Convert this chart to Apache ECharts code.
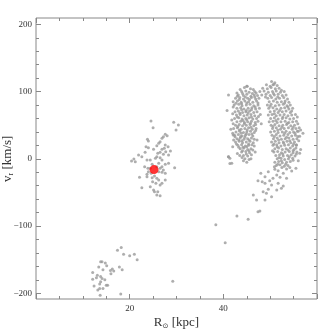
<!DOCTYPE html>
<html>
<head>
<meta charset="utf-8">
<script src="https://cdn.jsdelivr.net/npm/echarts@6/dist/echarts.min.js"></script>
<style>html,body{margin:0;padding:0;background:#fff;}#c{width:335px;height:335px;}</style>
</head>
<body>
<div id="c"></div>
<script>
// Tick labels
const xTickLabels = [20, 40];
const yTickLabels = [-200, -100, 0, 100, 200];

// Lower-left group [R, v_r]
const groupLow = [
[17.4,-136],[18.2,-132],[18.7,-142],[20.0,-144],[21.0,-142],[21.6,-150],
[13.8,-153],[14.1,-153],[13.4,-161],[14.8,-155],[15.1,-159],[14.3,-165],
[12.1,-169],[13.1,-173],[13.8,-175],[15.9,-166],[16.3,-164],[16.6,-167],
[17.8,-161],[18.4,-165],[16.0,-171],[12.1,-179],[12.9,-177],[14.1,-178],
[14.7,-180],[13.8,-183],[15.0,-188],[15.3,-188],[12.4,-189],[13.6,-186],
[13.6,-193],[14.3,-193],[13.2,-195],[13.7,-203],[18.1,-201],[29.2,-182]
];

// Middle group
const groupMid = [
[24.55,56.2],[29.4,54.3],[30.4,50.3],[25.0,46.2],[29.9,42.8],[27.6,36.4],
[28.0,34.4],[27.2,32.9],[26.9,30.5],[23.8,29.0],[24.0,26.5],[26.5,25.4],
[26.2,23.0],[25.8,19.5],[27.6,20.5],[23.5,18.0],[24.0,16.5],[25.1,14.1],
[26.9,14.1],[27.4,15.6],[28.2,18.0],[28.7,11.6],[27.7,10.6],[26.5,9.7],
[26.0,8.2],[23.3,9.7],[21.9,5.7],[22.6,3.1],[20.9,-0.3],[20.4,-3.3],
[21.2,-4.3],[27.2,6.7],[28.3,5.7],[25.8,3.1],[25.5,0.7],[26.5,1.6],
[24.4,-1.8],[23.7,-1.8],[26.9,-1.8],[27.6,-8.2],[28.3,-6.7],[26.2,-6.7],
[24.8,-8.2],[23.2,-11.7],[23.9,-14.1],[24.4,-14.1],[25.8,-11.7],[26.9,-11.7],
[26.5,-14.1],[27.2,-16.7],[29.6,-13.2],[24.0,-19.2],[24.6,-21.6],[23.7,-23.0],
[26.2,-19.2],[26.9,-20.1],[27.6,-21.6],[22.1,-27.5],[24.8,-28.1],[25.3,-25.6],
[25.8,-29.0],[26.2,-31.5],[27.6,-31.5],[24.9,-34.0],[25.6,-36.4],[26.9,-36.4],
[26.5,-39.0],[24.4,-41.5],[25.1,-46.4],[22.6,-43.0],[25.3,-48.9],[25.8,-53.8],
[26.5,-54.8],[26.0,-48.9],[23.7,-26.6]
];

// Right group, left arm
const armLeft = [
[44.5,106],[45.8,104],[45.1,108],
[43.9,100],[44.8,101],[45.5,99],[46.7,100],[44.1,97],
[43.2,95],[44.3,94],[45.0,96],[45.9,93],[46.6,95],[47.3,94],
[42.6,90],[43.5,91],[44.3,89],[45.2,90],[46.0,91],[46.9,89],[47.6,90],
[43.0,86],[43.8,84],[44.6,86],[45.4,85],[46.3,84],[47.1,86],
[42.3,80],[43.3,81],[44.0,79],[44.9,80],[45.7,81],[46.5,79],[47.4,80],
[42.9,75],[43.7,76],[44.4,74],[45.3,75],[46.1,76],[46.9,74],[47.7,75],
[42.5,70],[43.2,71],[44.1,69],[44.8,70],[45.6,71],[46.5,69],[47.2,70],
[42.8,65],[43.6,66],[44.4,64],[45.1,65],[45.9,66],[46.7,64],
[42.4,60],[43.3,61],[44.0,59],[44.8,60],[45.5,61],[46.3,59],[47.1,60],
[42.9,55],[43.7,56],[44.5,54],[45.2,55],[46.0,56],[46.8,54],
[42.6,50],[43.4,51],[44.1,49],[44.9,50],[45.7,51],[46.5,49],
[42.2,45],[43.0,46],[43.8,44],[44.6,45],[45.4,46],[46.2,44],[47.0,45],
[42.7,40],[43.5,41],[44.3,39],[45.0,40],[45.8,41],[46.6,39],
[42.4,35],[43.2,36],[44.0,34],[44.7,35],[45.5,36],[46.3,34],
[42.9,30],[43.6,31],[44.4,29],[45.2,30],[46.0,31],
[42.6,25],[43.4,26],[44.1,24],[44.9,25],[45.7,26],[46.4,24],
[43.1,20],[43.9,21],[44.7,19],[45.4,20],[46.1,21],
[43.6,15],[44.4,16],[45.2,14],[45.9,15],
[43.9,10],[44.8,11],[45.6,9],
[44.3,5],[45.2,4],[44.6,0],[45.5,-1],[45.0,-5],
[43.0,93],[44.7,92],[46.2,97],[45.6,88],[43.9,82],[46.8,77],[44.9,72],[43.5,68],
[46.0,62],[44.2,57],[45.8,53],[43.1,48],[45.1,43],[43.8,38],[46.1,37],[44.6,32],
[43.3,28],[45.4,22],[44.2,17],[45.5,12],[44.9,7],
[43.6,103],[46.4,103],[42.9,98],[47.0,98],[43.4,88],[46.7,92],[42.1,77],[45.0,83],
[47.4,83],[43.9,73],[46.0,73],[42.0,67],[45.3,68],[47.5,63],[43.0,62],[45.0,58],
[47.4,56],[42.1,52],[44.5,52],[46.9,51],[43.4,43],[45.9,47],[42.0,38],[44.9,37],
[46.9,42],[43.7,33],[46.6,29],[42.2,28],[44.0,27],[45.5,28],[42.8,22],[46.6,19],
[43.3,17],[45.0,18],[46.3,13],[44.1,12],[43.5,5],[46.0,6],[44.0,2],[45.9,0],[44.3,-3],
[41.1,95],[42.1,85],[42.7,82.5],[41.8,57.7],[42.1,35.4],[42.5,32.9],[41.1,3.1],
[41.4,0.7],[41.8,-6.7],[45.0,108],[40.8,72],[47.9,66],[48.1,52],[41.6,44],
[42.0,18],[43.0,8],[46.8,10],[47.2,28]
];

// Right group, right arm
const armRight = [
[50.3,115],[51.0,113],[50.6,110],
[49.2,110],[50.0,108],[50.8,111],[51.5,109],
[48.4,105],[49.4,104],[50.2,106],[51.1,104],[51.9,105],
[47.8,100],[48.7,101],[49.6,99],[50.5,100],[51.3,101],[52.2,99],[53.0,100],
[48.2,95],[49.1,96],[50.0,94],[50.9,95],[51.7,96],[52.6,94],[53.4,95],
[49.5,90],[50.3,91],[51.2,89],[52.0,90],[52.9,91],[53.7,89],
[49.8,85],[50.7,86],[51.5,84],[52.4,85],[53.2,86],[54.0,84],
[49.4,80],[50.2,81],[51.1,79],[51.9,80],[52.8,81],[53.6,79],[54.3,80],
[49.7,75],[50.6,76],[51.4,74],[52.3,75],[53.1,76],[54.0,74],[54.8,75],
[50.0,70],[50.9,71],[51.7,69],[52.6,70],[53.4,71],[54.3,69],
[49.6,65],[50.4,66],[51.3,64],[52.1,65],[53.0,66],[53.8,64],[54.6,65],[55.4,66],
[50.1,60],[50.9,61],[51.7,59],[52.6,60],[53.4,61],[54.2,59],[55.0,60],
[49.8,55],[50.6,56],[51.5,54],[52.3,55],[53.2,56],[54.0,54],[54.8,55],[55.6,56],
[50.2,50],[51.0,51],[51.9,49],[52.7,50],[53.5,51],[54.4,49],[55.2,50],
[50.5,45],[51.3,46],[52.2,44],[53.0,45],[53.9,46],[54.7,44],[55.5,45],[56.2,46],
[50.1,40],[50.9,41],[51.7,39],[52.6,40],[53.4,41],[54.2,39],[55.0,40],[55.8,41],
[50.4,35],[51.3,36],[52.1,34],[52.9,35],[53.8,36],[54.6,34],[55.4,35],
[50.7,30],[51.5,31],[52.4,29],[53.2,30],[54.0,31],[54.9,29],[55.7,30],
[50.3,25],[51.1,26],[51.9,24],[52.8,25],[53.6,26],[54.4,24],[55.2,25],
[50.6,20],[51.4,21],[52.3,19],[53.1,20],[53.9,21],[54.8,19],[55.6,20],
[51.0,15],[51.8,16],[52.6,14],[53.4,15],[54.3,16],[55.1,14],
[50.8,10],[51.6,11],[52.4,9],[53.2,10],[54.1,11],[54.9,9],[55.7,10],
[51.2,5],[52.0,6],[52.8,4],[53.7,5],[54.5,6],[55.3,4],
[51.5,0],[52.3,1],[53.1,-1],[53.9,0],[54.8,1],
[51.0,-5],[51.8,-4],[52.6,-6],[53.5,-5],[54.3,-4],
[51.3,-10],[52.1,-9],[53.0,-11],[53.8,-10],
[49.0,92],[50.7,97],[52.4,102],[51.6,92],[53.1,83],[50.0,78],[52.0,72],[53.8,77],
[54.6,71],[50.9,67],[52.7,62],[55.8,62],[51.2,57],[53.7,53],[55.9,52],[50.6,48],
[52.5,47],[54.9,47],[51.6,43],[53.1,38],[55.3,38],[56.5,43],[50.9,33],[53.5,32],
[55.9,33],[51.8,28],[54.2,27],[56.1,27],[50.8,22],[52.9,23],[55.0,22],[51.5,18],
[53.8,13],[55.5,16],[50.5,12],[52.7,7],[54.9,12],[51.9,2],[54.1,3],[55.6,7],
[52.4,-3],[54.9,-2],[51.6,-8],[53.3,-8],[52.5,-13],[54.2,-13],[50.9,-12],
[56.3,8.2],[56.0,40.9],[56.3,33.5],[56.5,14],[55.6,21],[57.0,38],[56.0,-3],
[55.5,-14],[54.6,-18],[53.5,-15]
];

// Right group, lower tail and stragglers
const tail = [
[48.0,-21.6],[49.6,-19.2],[48.9,-26.6],[51.0,-15.6],[51.7,-17.7],[52.8,-21.6],
[51.4,-24.1],[50.6,-29.0],[52.1,-27.5],[53.5,-29.0],[47.4,-32.6],[48.3,-34.1],
[48.9,-36.4],[49.9,-32.6],[50.3,-39.0],[51.7,-36.4],[52.8,-40.4],[52.4,-43.9],
[51.4,-46.4],[49.6,-45.4],[48.5,-48.9],[49.2,-51.3],[50.3,-56.4],[46.4,-53.8],
[47.1,-61.3],[48.9,-61.3],[47.4,-78.7],[47.8,-77.6],[42.9,-85],[45.3,-90],
[40.4,-125],[38.4,-98],[41.1,3],[41.4,-7]
];

// Highlighted point
const highlight = [[25.2,-16]];

const FONT = 'Liberation Serif';
const grey = '#888';
const minusFmt = v => String(v).replace('-', '\u2212');

const chart = echarts.init(document.getElementById('c'), null, {renderer:'canvas'});
const tickCommon = {inside:true, length:5, lineStyle:{color:grey, width:1}};
const minorCommon = {show:true, length:3, lineStyle:{color:grey, width:1}};
chart.setOption({
  animation:false,
  backgroundColor:'#fff',
  grid:[
    {left:36, right:18, top:24.3, bottom:41.7, containLabel:false, outerBoundsMode:'none'},
    {left:36, right:18, top:18, bottom:36, show:true, borderColor:grey, borderWidth:1,
     containLabel:false, outerBoundsMode:'none'}
  ],
  xAxis:[
    {gridIndex:0, type:'value', min:0, max:60, show:false},
    {gridIndex:1, type:'value', min:0, max:60, interval:20, position:'bottom',
     axisLine:{show:false}, splitLine:{show:false},
     axisTick:tickCommon, minorTick:Object.assign({splitNumber:4}, minorCommon),
     axisLabel:{formatter:v => xTickLabels.indexOf(v) >= 0 ? String(v) : '', margin:5,
       fontFamily:FONT, fontSize:9, color:'#333'},
     name:'{a|R}{s|\u2299} {a|[kpc]}', nameLocation:'middle', nameGap:17, nameMoveOverlap:false,
     nameTextStyle:{rich:{a:{fontFamily:FONT, fontSize:13, color:'#333'},
       s:{fontFamily:'DejaVu Sans', fontSize:7, color:'#333', padding:[7,0,0,0]}}}},
    {gridIndex:1, type:'value', min:0, max:60, interval:20, position:'top',
     axisLine:{show:false}, splitLine:{show:false},
     axisTick:tickCommon, minorTick:Object.assign({splitNumber:4}, minorCommon),
     axisLabel:{show:false}}
  ],
  yAxis:[
    {gridIndex:0, type:'value', min:-200, max:200, interval:100, position:'left',
     axisLine:{show:false}, splitLine:{show:false},
     axisTick:tickCommon, minorTick:Object.assign({splitNumber:5}, minorCommon),
     axisLabel:{formatter:v => yTickLabels.indexOf(v) >= 0 ? minusFmt(v) : '', margin:4,
       fontFamily:FONT, fontSize:9, color:'#333'},
     name:'{a|v}{s|r} {a|[km/s]}', nameLocation:'middle', nameGap:21, nameMoveOverlap:false,
     nameTextStyle:{rich:{a:{fontFamily:FONT, fontSize:13, color:'#333'},
       s:{fontFamily:FONT, fontSize:8, color:'#333', padding:[7,0,0,0]}}}},
    {gridIndex:0, type:'value', min:-200, max:200, interval:100, position:'right',
     axisLine:{show:false}, splitLine:{show:false},
     axisTick:tickCommon, minorTick:Object.assign({splitNumber:5}, minorCommon),
     axisLabel:{show:false}},
    {gridIndex:1, type:'value', min:0, max:1, show:false}
  ],
  series:[
    {type:'scatter', xAxisIndex:0, yAxisIndex:0, symbolSize:3, clip:false, silent:true,
     itemStyle:{color:'#9a9a9a'},
     data:[].concat(groupLow, groupMid, armLeft, armRight, tail)},
    {type:'scatter', xAxisIndex:0, yAxisIndex:0, symbolSize:9, clip:false, silent:true, z:5,
     itemStyle:{color:'#ff0000'}, data:highlight}
  ]
});
</script>
</body>
</html>
